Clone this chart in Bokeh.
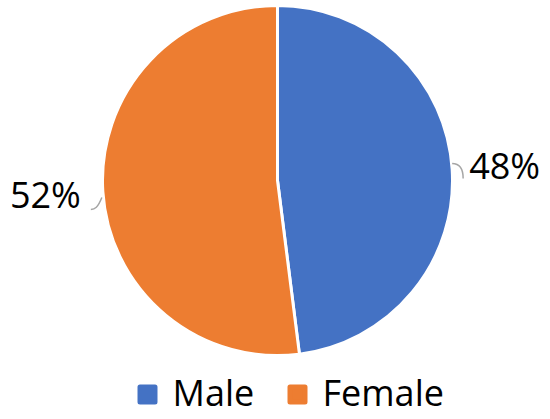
import math
from bokeh.plotting import figure
from bokeh.models import Range1d, ColumnDataSource
from bokeh.core.properties import value
from bokeh.embed import file_html
from bokeh.resources import INLINE

categories = ["Male", "Female"]
values = [48, 52]
colors = ["#4472C4", "#ED7D31"]

W, H = 550, 419
p = figure(width=W, height=H, output_backend="svg", toolbar_location=None,
           x_range=Range1d(0, W), y_range=Range1d(0, H), min_border=0)
p.axis.visible = False
p.grid.visible = False
p.outline_line_color = None
p.background_fill_color = "white"

cx, cy, r = 277, 239, 175
total = sum(values)
starts, ends, mids = [], [], []
acc = 0.0
for v in values:
    a0 = math.pi / 2 - 2 * math.pi * (acc + v) / total
    a1 = math.pi / 2 - 2 * math.pi * acc / total
    starts.append(a0)
    ends.append(a1)
    mids.append((a0 + a1) / 2)
    acc += v

src = ColumnDataSource(dict(start=starts, end=ends, color=colors))
p.wedge(x=cx, y=cy, radius=r, start_angle="start", end_angle="end",
        fill_color="color", line_color="white", line_width=3, source=src)

font = value("Open Sans")
TXT_SHIFT = 15  # compensate renderer baseline offset
for v, m in zip(values, mids):
    c, s = math.cos(m), math.sin(m)
    ex, ey = cx + r * c, cy + r * s
    if c >= 0:
        x0, y0 = ex, ey + 6
        p.bezier(x0=x0, y0=y0, x1=x0 + 11, y1=y0 - 15,
                 cx0=x0 + 7, cy0=y0, cx1=x0 + 11, cy1=y0 - 5,
                 line_color="#A6A6A6", line_width=1.5)
        p.text(x=[ex + 17], y=[ey - 11 + TXT_SHIFT], text=[f"{v}%"], text_font=font,
               text_font_size="36px", text_color="#000000",
               text_align="left", text_baseline="alphabetic")
    else:
        x0, y0 = ex - 1, ey - 6
        p.bezier(x0=x0, y0=y0, x1=x0 - 11, y1=y0 - 12,
                 cx0=x0 - 4, cy0=y0 - 10, cx1=x0 - 7, cy1=y0 - 12,
                 line_color="#A6A6A6", line_width=1.5)
        p.text(x=[ex - 22], y=[ey - 18 + TXT_SHIFT], text=[f"{v}%"], text_font=font,
               text_font_size="36px", text_color="#000000",
               text_align="right", text_baseline="alphabetic")

# legend
leg_x = [147, 297]
for name, col, lx in zip(categories, colors, leg_x):
    p.scatter(x=[lx], y=[25], marker="square", size=15, fill_color=col,
              line_color=col, line_width=5, line_join="round")
    p.text(x=[lx + 25], y=[12 + TXT_SHIFT], text=[name], text_font=font,
           text_font_size="36px", text_color="#000000",
           text_align="left", text_baseline="alphabetic")

open("out.html", "w").write(file_html(p, INLINE))
